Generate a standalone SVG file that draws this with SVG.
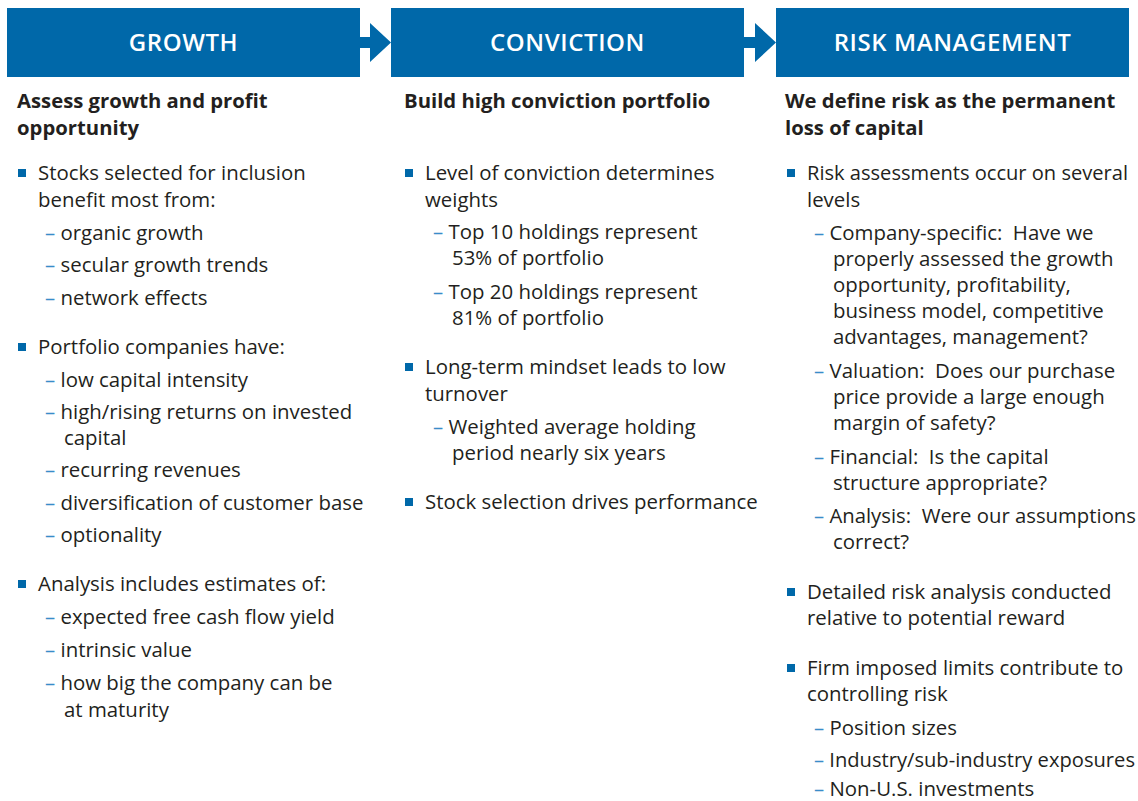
<svg xmlns="http://www.w3.org/2000/svg" width="1138" height="801" viewBox="0 0 1138 801">
<style>
.hdr{fill:#0068a9}
.ht{font-family:"Open Sans",sans-serif;font-size:24px;font-weight:600;fill:#ffffff;text-anchor:middle;letter-spacing:0.6px}
.sh{font-family:"Open Sans",sans-serif;font-size:20.3px;font-weight:700;fill:#231f20}
.t{font-family:"Open Sans",sans-serif;font-size:20.4px;fill:#231f20}
.d{fill:#3a8cc9}
.b{fill:#0068a9}
.arr{fill:#0068a9}
</style>
<rect width="1138" height="801" fill="#ffffff"/>
<g id="connectors">
<path class="arr" d="M359,37 H370 V23 L391,42.5 L370,62 V48 H359 Z"/>
<path class="arr" d="M743,37 H755 V23 L776,42.5 L755,62 V48 H743 Z"/>
</g>
<g id="growth">
<rect class="hdr" x="7" y="8" width="353" height="69"/>
<text class="ht" x="183.5" y="51">GROWTH</text>
<text class="sh" x="17" y="108">Assess growth and profit</text>
<text class="sh" x="17" y="135">opportunity</text>
<rect class="b" x="18" y="169" width="8" height="8"/>
<text class="t" x="38" y="180">Stocks selected for inclusion</text>
<text class="t" x="38" y="207">benefit most from:</text>
<text class="t" x="45" y="240"><tspan class="d">–</tspan> organic growth</text>
<text class="t" x="45" y="272"><tspan class="d">–</tspan> secular growth trends</text>
<text class="t" x="45" y="305"><tspan class="d">–</tspan> network effects</text>
<rect class="b" x="18" y="343" width="8" height="8"/>
<text class="t" x="38" y="354">Portfolio companies have:</text>
<text class="t" x="45" y="387"><tspan class="d">–</tspan> low capital intensity</text>
<text class="t" x="45" y="419"><tspan class="d">–</tspan> high/rising returns on invested</text>
<text class="t" x="64" y="445">capital</text>
<text class="t" x="45" y="477"><tspan class="d">–</tspan> recurring revenues</text>
<text class="t" x="45" y="510"><tspan class="d">–</tspan> diversification of customer base</text>
<text class="t" x="45" y="542"><tspan class="d">–</tspan> optionality</text>
<rect class="b" x="18" y="580" width="8" height="8"/>
<text class="t" x="38" y="591">Analysis includes estimates of:</text>
<text class="t" x="45" y="624"><tspan class="d">–</tspan> expected free cash flow yield</text>
<text class="t" x="45" y="657"><tspan class="d">–</tspan> intrinsic value</text>
<text class="t" x="45" y="690"><tspan class="d">–</tspan> how big the company can be</text>
<text class="t" x="64" y="717">at maturity</text>
</g>
<g id="conviction">
<rect class="hdr" x="391" y="8" width="353" height="69"/>
<text class="ht" x="567.5" y="51">CONVICTION</text>
<text class="sh" x="404" y="108">Build high conviction portfolio</text>
<rect class="b" x="405" y="169" width="8" height="8"/>
<text class="t" x="425" y="180">Level of conviction determines</text>
<text class="t" x="425" y="207">weights</text>
<text class="t" x="433" y="239"><tspan class="d">–</tspan> Top 10 holdings represent</text>
<text class="t" x="452" y="265">53% of portfolio</text>
<text class="t" x="433" y="299"><tspan class="d">–</tspan> Top 20 holdings represent</text>
<text class="t" x="452" y="325">81% of portfolio</text>
<rect class="b" x="405" y="363" width="8" height="8"/>
<text class="t" x="425" y="374">Long-term mindset leads to low</text>
<text class="t" x="425" y="401">turnover</text>
<text class="t" x="433" y="434"><tspan class="d">–</tspan> Weighted average holding</text>
<text class="t" x="452" y="460">period nearly six years</text>
<rect class="b" x="405" y="498" width="8" height="8"/>
<text class="t" x="425" y="509">Stock selection drives performance</text>
</g>
<g id="risk-management">
<rect class="hdr" x="776" y="8" width="353" height="69"/>
<text class="ht" x="952.5" y="51">RISK MANAGEMENT</text>
<text class="sh" x="785" y="108">We define risk as the permanent</text>
<text class="sh" x="785" y="135">loss of capital</text>
<rect class="b" x="787" y="169" width="8" height="8"/>
<text class="t" x="807" y="180" textLength="321" lengthAdjust="spacingAndGlyphs">Risk assessments occur on several</text>
<text class="t" x="807" y="207">levels</text>
<text class="t" x="814" y="240" xml:space="preserve"><tspan class="d">–</tspan> Company-specific:  Have we</text>
<text class="t" x="833" y="266">properly assessed the growth</text>
<text class="t" x="833" y="292">opportunity, profitability,</text>
<text class="t" x="833" y="318">business model, competitive</text>
<text class="t" x="833" y="344">advantages, management?</text>
<text class="t" x="814" y="378" xml:space="preserve"><tspan class="d">–</tspan> Valuation:  Does our purchase</text>
<text class="t" x="833" y="404">price provide a large enough</text>
<text class="t" x="833" y="430">margin of safety?</text>
<text class="t" x="814" y="464" xml:space="preserve"><tspan class="d">–</tspan> Financial:  Is the capital</text>
<text class="t" x="833" y="490">structure appropriate?</text>
<text class="t" x="814" y="523" xml:space="preserve" textLength="322" lengthAdjust="spacingAndGlyphs"><tspan class="d">–</tspan> Analysis:  Were our assumptions</text>
<text class="t" x="833" y="549">correct?</text>
<rect class="b" x="787" y="588" width="8" height="8"/>
<text class="t" x="807" y="599">Detailed risk analysis conducted</text>
<text class="t" x="807" y="625">relative to potential reward</text>
<rect class="b" x="787" y="664" width="8" height="8"/>
<text class="t" x="807" y="675">Firm imposed limits contribute to</text>
<text class="t" x="807" y="701">controlling risk</text>
<text class="t" x="814" y="735"><tspan class="d">–</tspan> Position sizes</text>
<text class="t" x="814" y="767" textLength="321" lengthAdjust="spacingAndGlyphs"><tspan class="d">–</tspan> Industry/sub-industry exposures</text>
<text class="t" x="814" y="796"><tspan class="d">–</tspan> Non-U.S. investments</text>
</g>
</svg>
